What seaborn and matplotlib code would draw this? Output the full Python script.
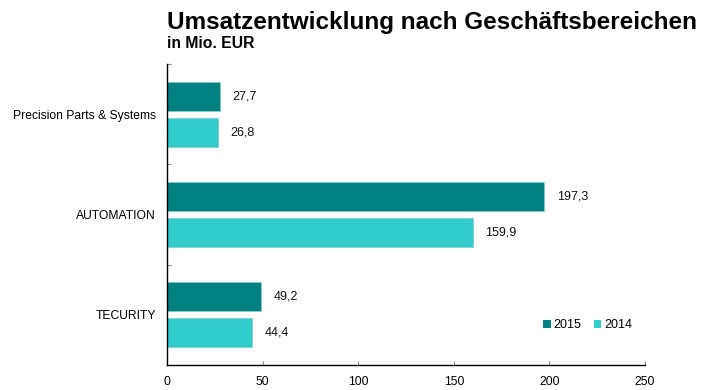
import matplotlib
matplotlib.use("Agg")
import matplotlib.pyplot as plt
from matplotlib.ticker import FixedLocator
import seaborn as sns
import pandas as pd

# Umsatz je Geschäftsbereich, in Mio. EUR
segments = ["Precision Parts & Systems", "AUTOMATION", "TECURITY"]
years = ["2015", "2014"]
sales_2015 = [27.7, 197.3, 49.2]
sales_2014 = [26.8, 159.9, 44.4]
x_ticks = [0, 50, 100, 150, 200, 250]

colors = {"2015": "#008080", "2014": "#33CCCC"}

df = pd.DataFrame({
    "Bereich": segments * 2,
    "Jahr": ["2015"] * len(segments) + ["2014"] * len(segments),
    "Umsatz": sales_2015 + sales_2014,
})

sns.set_style("white")
plt.rcParams["font.family"] = ["Liberation Sans", "DejaVu Sans"]
plt.rcParams["text.color"] = "black"
plt.rcParams["xtick.color"] = "black"
plt.rcParams["ytick.color"] = "black"

fig = plt.figure(figsize=(7.12, 3.9), dpi=100)
ax = fig.add_axes([167 / 712, 1 - 365 / 390, 478 / 712, 301 / 390])

sns.barplot(data=df, y="Bereich", x="Umsatz", hue="Jahr", hue_order=years,
            order=segments, palette=colors, orient="h", width=0.72, gap=0.195,
            ax=ax, edgecolor="#80cfcb", linewidth=0.6, saturation=1)

# value labels with German decimal comma
for container in ax.containers:
    vals = container.datavalues
    ax.bar_label(container, labels=[f"{v:.1f}".replace(".", ",") for v in vals],
                 padding=9, fontsize=9, color="#111111")

ax.set_xlim(0, 250)
ax.set_ylim(2.5, -0.5)
ax.set_xticks(x_ticks)
ax.set_xticklabels([str(t) for t in x_ticks], fontsize=8.7)
ax.tick_params(axis="y", which="major", labelsize=8.7, length=0, pad=8, left=True)
ax.tick_params(axis="x", which="major", direction="in", length=3, width=0.8,
               color="#888888", labelcolor="black", pad=8, bottom=True)
ax.yaxis.set_minor_locator(FixedLocator([-0.5, 0.5, 1.5]))
ax.tick_params(axis="y", which="minor", direction="in", length=3, width=0.8,
               color="#888888", left=True)
ax.set_xlabel("")
ax.set_ylabel("")

for side in ["top", "right"]:
    ax.spines[side].set_visible(False)
for side in ["left", "bottom"]:
    ax.spines[side].set_color("black")
    ax.spines[side].set_linewidth(1.0)

leg = ax.legend(title=None, ncol=2, frameon=False, fontsize=9,
                loc="center", bbox_to_anchor=(0.88, 0.133),
                handlelength=0.6, handleheight=0.6, handletextpad=0.2,
                columnspacing=1.0)
for h in leg.legend_handles:
    h.set_edgecolor("none")

fig.text(167 / 712, 1 - 29 / 390, "Umsatzentwicklung nach Geschäftsbereichen",
         fontsize=17.5, fontweight="bold", ha="left", va="baseline", color="black")
fig.text(167 / 712, 1 - 48 / 390, "in Mio. EUR",
         fontsize=11.3, fontweight="bold", ha="left", va="baseline", color="black")

fig.savefig("out.png", dpi=100)
